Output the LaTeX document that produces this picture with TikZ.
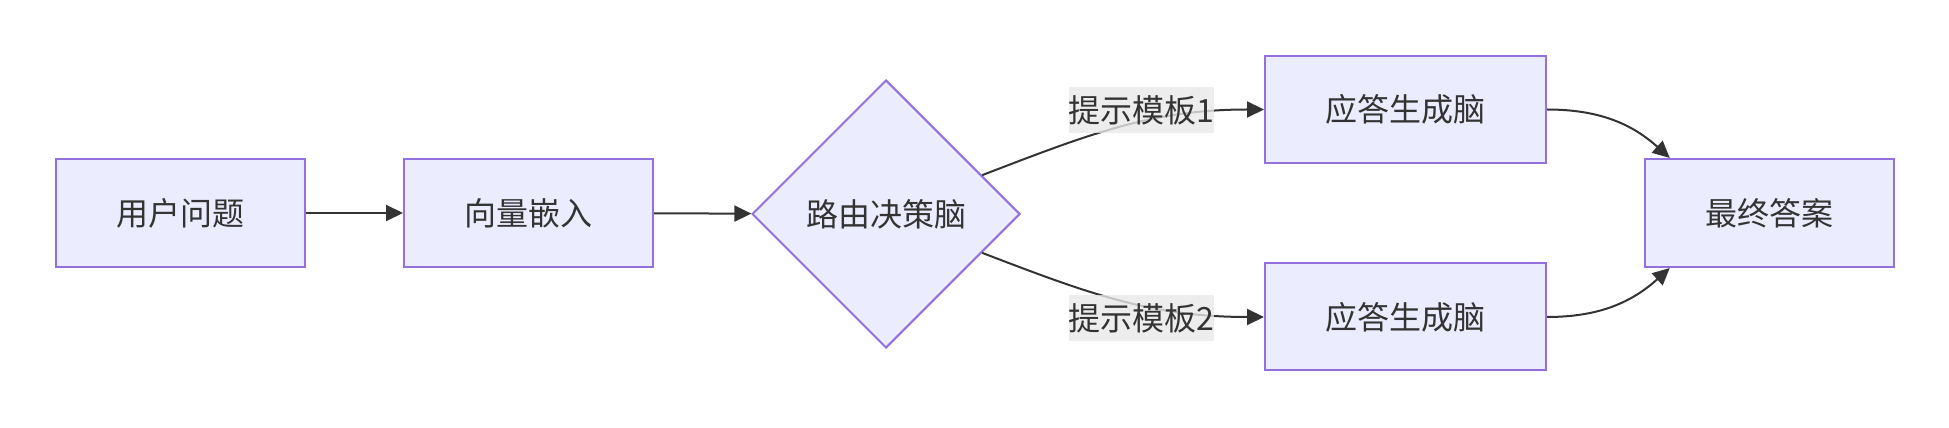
\documentclass[tikz,border=0pt]{standalone}
\usepackage{fontspec}
\newfontfamily\cjk{Noto Sans CJK SC}
\usetikzlibrary{arrows.meta, shapes.geometric}
\definecolor{nodefill}{HTML}{ECECFF}
\definecolor{nodeline}{HTML}{9370DB}
\definecolor{linkcol}{HTML}{333333}
\definecolor{tagfill}{HTML}{E8E8E8}

\begin{document}
\begin{tikzpicture}[
  x=0.5pt, y=0.5pt,
  >={Triangle[length=8.5pt, width=8pt]},
  font=\cjk\fontsize{16pt}{20pt}\selectfont,
  box/.style={draw=nodeline, fill=nodefill, line width=1pt, text=linkcol,
    minimum width=124.5pt, minimum height=54pt, inner sep=0pt},
  brain/.style={box, minimum width=140.5pt, minimum height=53.5pt},
  choice/.style={diamond, aspect=1, draw=nodeline, fill=nodefill, line width=1pt,
    text=linkcol, minimum width=134pt, minimum height=134pt, inner sep=0pt},
  link/.style={->, draw=linkcol, line width=1pt},
  tag/.style={fill=tagfill, fill opacity=0.8, text opacity=1, text=linkcol,
    inner xsep=0pt, inner ysep=0pt, minimum height=23pt},
  ]
  \useasboundingbox (0, 0) rectangle (1949, 428);

  % Input chain
  \node[box] (query) at (180.5, 215) {用户问题};
  \node[box] (embed) at (528.5, 215) {向量嵌入};
  \node[choice] (route) at (886, 214) {路由决策脑};

  % Two answer brains
  \node[brain] (gen1) at (1405.5, 318.5) {应答生成脑};
  \node[brain] (gen2) at (1405.5, 111) {应答生成脑};

  % Output
  \node[box] (answer) at (1769, 215) {最终答案};

  % Links
  \draw[link] (query) -- (embed);
  \draw[link] (embed) -- (route);
  \draw[link] (route.22) to[out=21, in=180] (gen1.west);
  \draw[link] (route.-22) to[out=-21, in=180] (gen2.west);
  \draw[link] (gen1.east) to[out=0, in=138] (answer.151);
  \draw[link] (gen2.east) to[out=0, in=-138] (answer.-151);

  % Link labels
  \node[tag] (tag1) at (1141.5, 318) {提示模板1};
  \node[tag] (tag2) at (1141.5, 110) {提示模板2};
\end{tikzpicture}
\end{document}
